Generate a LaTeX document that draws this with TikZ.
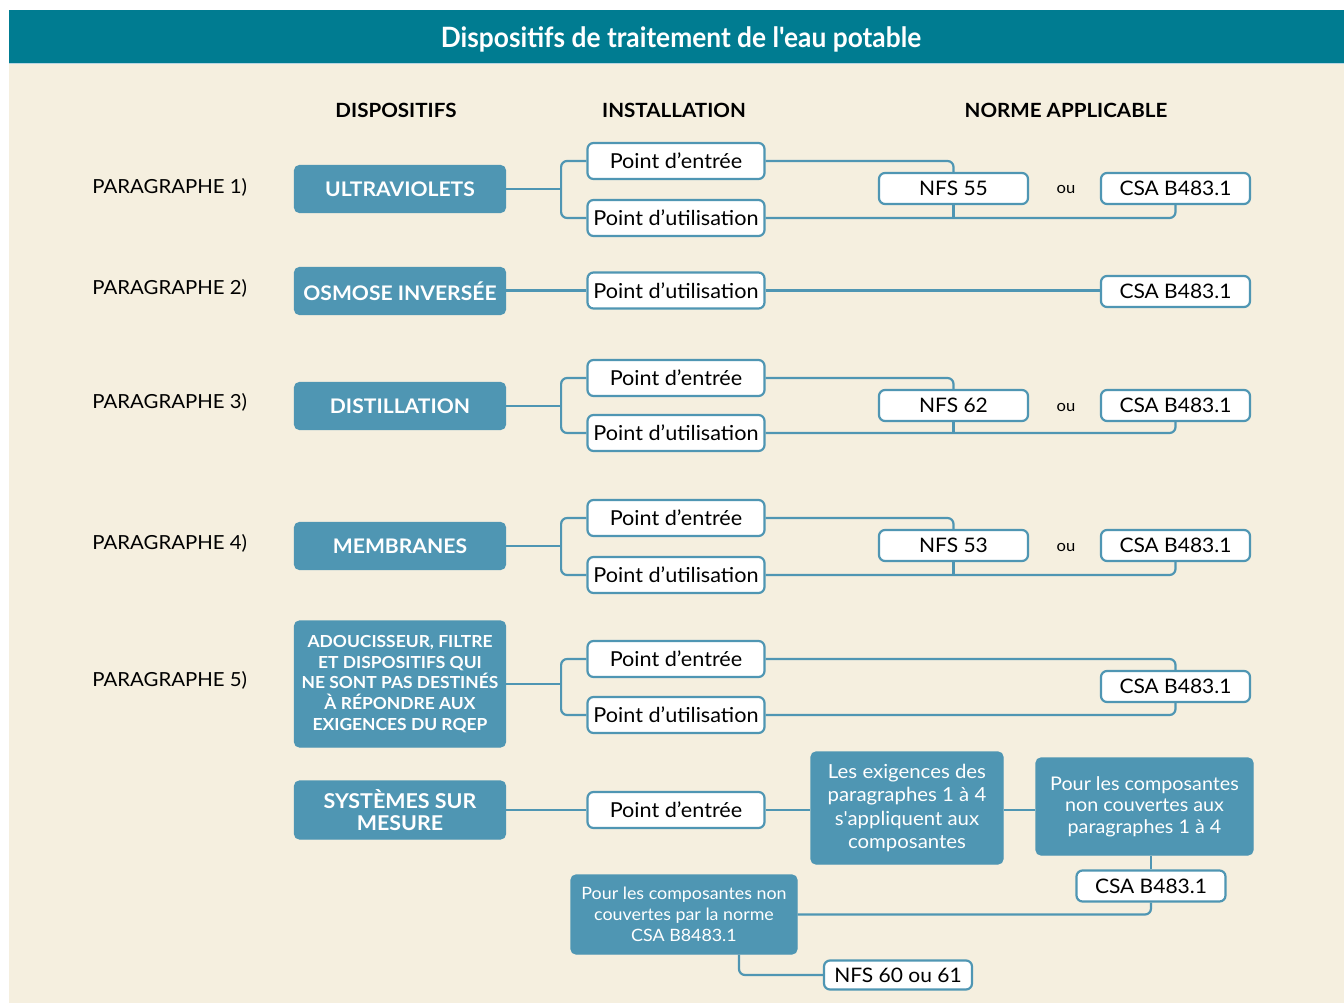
\documentclass[tikz,border=0pt]{standalone}
\usepackage{fontspec}
\setmainfont{Lato}[FakeStretch=1.05,Ligatures=TeXOff]
\newfontfamily\titlefont[FakeStretch=0.94,Ligatures=TeXOff]{Lato}
\definecolor{barc}{HTML}{007C91}
\definecolor{bgc}{HTML}{F5EFDF}
\definecolor{devc}{HTML}{4F96B3}
\begin{document}
\begin{tikzpicture}[x=0.5pt,y=-0.5pt,
  devbox/.style={draw=devc,fill=devc,rounded corners=2.5pt,line width=0.6pt,text=white,
     font=\bfseries\fontsize{10.05pt}{11pt}\selectfont,minimum width=105.5pt,minimum height=23.5pt,inner sep=0pt,align=center},
  instbox/.style={draw=devc,fill=white,rounded corners=3pt,line width=1.1pt,
     font=\fontsize{10.3pt}{12pt}\selectfont,minimum width=88.5pt,minimum height=18pt,inner sep=0pt},
  normbox/.style={draw=devc,fill=white,rounded corners=3pt,line width=1.1pt,
     font=\fontsize{10pt}{12pt}\selectfont,minimum width=74.5pt,minimum height=15.5pt,inner sep=0pt},
  infobox/.style={draw=devc,fill=devc,rounded corners=2.5pt,line width=0.6pt,text=white,
     inner sep=0pt,align=center},
  conn/.style={draw=devc,line width=1.1pt,rounded corners=3pt},
  paralab/.style={anchor=west,font=\fontsize{9.7pt}{11pt}\selectfont,inner sep=0pt},
  head/.style={font=\bfseries\fontsize{9.8pt}{11pt}\selectfont,inner sep=0pt},
  ou/.style={font=\fontsize{7.9pt}{9pt}\selectfont,inner sep=0pt}]
\useasboundingbox (0,0) rectangle (1344,1005);
\fill[white] (0,0) rectangle (1344,1005);
\fill[bgc] (9,63) rectangle (1344,1003);
\fill[barc] (9,10) rectangle (1344,63);
\draw[devc!40,line width=0.6pt] (9,63.5) -- (1344,63.5);
\node[text=white,inner sep=0pt,font=\titlefont\bfseries\fontsize{14pt}{16pt}\selectfont] (title) at (681,39) {Dispositifs de traitement de l'eau potable};

\node[head] (h1) at (396,110) {DISPOSITIFS};
\node[head] (h2) at (674,110) {INSTALLATION};
\node[head] (h3) at (1066,110) {NORME APPLICABLE};

\node[paralab] (p1) at (92,187) {PARAGRAPHE 1)};
\node[paralab] (p2) at (92,288) {PARAGRAPHE 2)};
\node[paralab] (p3) at (92,402) {PARAGRAPHE 3)};
\node[paralab] (p4) at (92,543) {PARAGRAPHE 4)};
\node[paralab] (p5) at (92,680) {PARAGRAPHE 5)};

% devices
\node[devbox] (d1) at (400,189) {ULTRAVIOLETS};
\node[devbox] (d2) at (400,291) {OSMOSE INVERSÉE};
\node[devbox] (d3) at (400,406) {DISTILLATION};
\node[devbox] (d4) at (400,546) {MEMBRANES};
\node[devbox,minimum height=63pt,font=\bfseries\fontsize{8.3pt}{10.3pt}\selectfont] (d5) at (400,684)
  {ADOUCISSEUR, FILTRE\\ET DISPOSITIFS QUI\\NE SONT PAS DESTINÉS\\À RÉPONDRE AUX\\EXIGENCES DU RQEP};
\node[devbox,minimum height=29pt,font=\bfseries\fontsize{10.2pt}{11pt}\selectfont] (d6) at (400,810) {SYSTÈMES SUR\\MESURE};

% installations
\node[instbox] (e1) at (676,161) {Point d’entrée};
\node[instbox] (u1) at (676,218) {Point d’utilisation};
\node[instbox] (u2) at (676,290.5) {Point d’utilisation};
\node[instbox] (e3) at (676,378) {Point d’entrée};
\node[instbox] (u3) at (676,433) {Point d’utilisation};
\node[instbox] (e4) at (676,518) {Point d’entrée};
\node[instbox] (u4) at (676,575) {Point d’utilisation};
\node[instbox] (e5) at (676,659) {Point d’entrée};
\node[instbox] (u5) at (676,715) {Point d’utilisation};
\node[instbox] (e6) at (676,810) {Point d’entrée};

% norms
\node[normbox] (n1) at (953.5,188.5) {NFS 55};
\node[ou] (o1) at (1066,190) {ou};
\node[normbox] (c1) at (1175.5,188.5) {CSA B483.1};
\node[normbox] (c2) at (1175.5,291.5) {CSA B483.1};
\node[normbox] (n3) at (953.5,405.5) {NFS 62};
\node[ou] (o3) at (1066,407) {ou};
\node[normbox] (c3) at (1175.5,405.5) {CSA B483.1};
\node[normbox] (n4) at (953.5,545.5) {NFS 53};
\node[ou] (o4) at (1066,547) {ou};
\node[normbox] (c4) at (1175.5,545.5) {CSA B483.1};
\node[normbox] (c5) at (1175.5,686.5) {CSA B483.1};

% row 6 boxes
\node[infobox,minimum width=96pt,minimum height=56pt,font=\fontsize{9.7pt}{11.65pt}\selectfont] (x1) at (907,808)
  {Les exigences des\\paragraphes 1 à 4\\s'appliquent aux\\composantes};
\node[infobox,minimum width=108.5pt,minimum height=48.5pt,font=\fontsize{9.4pt}{10.75pt}\selectfont] (x2) at (1144.5,806.5)
  {Pour les composantes\\non couvertes aux\\paragraphes 1 à 4};
\node[normbox] (c6) at (1151,886) {CSA B483.1};
\node[infobox,minimum width=113pt,minimum height=39.5pt,font=\fontsize{8.5pt}{10.5pt}\selectfont] (x3) at (684,914.5)
  {Pour les composantes non\\couvertes par la norme\\CSA B8483.1};
\node[normbox,minimum width=74pt,minimum height=14.5pt] (n6) at (898,975) {NFS 60 ou 61};

% brackets devices -> installations
\foreach \d/\e/\u in {d1/e1/u1,d3/e3/u3,d4/e4/u4,d5/e5/u5}{
  \coordinate (k\d) at ([xshift=27.5pt]\d.east);
  \draw[conn] (\d.east) -- (k\d);
  \draw[conn] (\e.west) -| (k\d) |- (\u.west);
}
\draw[conn] (u2.west -| d2.east) -- (u2.west);
\draw[conn] (d6.east) -- (e6.west);

% installations -> norms
\foreach \e/\u/\n/\c in {e1/u1/n1/c1,e3/u3/n3/c3,e4/u4/n4/c4}{
  \draw[conn] (\e.east) -| (\n.north);
  \draw[conn] (\u.east) -| (\c.south);
  \draw[conn,rounded corners=0pt] (\n.south) -- (\n.south |- \u.east);
}
\draw[conn] (u2.east) -- (u2.east -| c2.west);
\draw[conn] (e5.east) -| (c5.north);
\draw[conn] (u5.east) -| (c5.south);

% row 6 connectors
\draw[conn] (e6.east) -- (e6.east -| x1.west);
\draw[conn] (e6.east -| x1.east) -- (e6.east -| x2.west);
\draw[conn] (c6.north) -- (c6.north |- x2.south);
\draw[conn] (c6.south) |- (x3.east);
\coordinate (k6) at (739,0);
\draw[conn] (n6.west) -| (x3.south -| k6);
\end{tikzpicture}
\end{document}
